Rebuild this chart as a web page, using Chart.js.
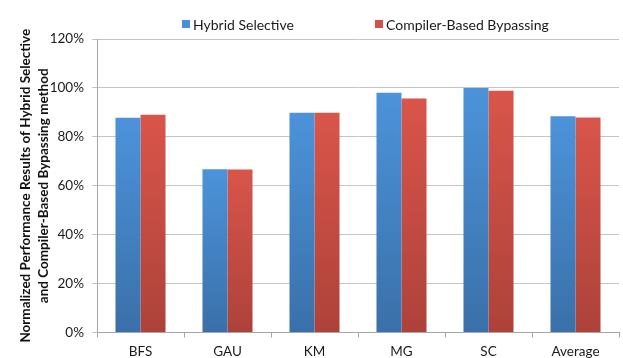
<!DOCTYPE html>
<html>
<head>
<meta charset="utf-8">
<script src="https://cdn.jsdelivr.net/npm/chart.js@4/dist/chart.umd.min.js"></script>
<style>
  html, body { margin: 0; padding: 0; background: #fff; overflow: hidden; }
  #wrap { position: relative; width: 623px; height: 366px; }
</style>
</head>
<body>
<div id="wrap"><canvas id="chart"></canvas></div>
<script>
// Benchmarks and normalized performance (%) for each method
const categories = ['BFS', 'GAU', 'KM', 'MG', 'SC', 'Average'];
const hybridSelective = [87.8, 66.7, 89.8, 98.0, 100.0, 88.4];
const compilerBypassing = [89.0, 66.6, 89.8, 95.7, 98.8, 87.9];
const yTicks = [0, 20, 40, 60, 80, 100, 120];

const FONT = 'Lato, "Open Sans", sans-serif';

// vertical per-bar gradient, lighter at the top
function barGradient(top, bottom) {
  return function (ctx) {
    const chart = ctx.chart;
    const area = chart.chartArea;
    if (!area || ctx.raw === undefined) return top;
    const y = chart.scales.y.getPixelForValue(ctx.raw);
    const base = chart.scales.y.getPixelForValue(0);
    const g = chart.ctx.createLinearGradient(0, y, 0, base);
    g.addColorStop(0, top);
    g.addColorStop(1, bottom);
    return g;
  };
}

// simple legend row drawn above the plot
const topLegend = {
  id: 'topLegend',
  afterDraw(chart, args, opts) {
    const c = chart.ctx;
    c.save();
    c.font = '14px ' + FONT;
    c.textBaseline = 'middle';
    c.textAlign = 'left';
    chart.data.datasets.forEach((ds, i) => {
      const x = opts.xs[i];
      c.fillStyle = ds.legendColor;
      c.fillRect(x, opts.y - 4, 8, 8);
      c.fillStyle = '#1a1a1a';
      c.fillText(ds.label, x + 11, opts.y + 1);
    });
    c.restore();
  }
};

new Chart(document.getElementById('chart'), {
  type: 'bar',
  data: {
    labels: categories,
    datasets: [
      {
        label: 'Hybrid Selective',
        data: hybridSelective,
        backgroundColor: barGradient('#4c93da', '#3a70a9'),
        legendColor: '#4a8fd6',
        categoryPercentage: 0.575,
        barPercentage: 1.0
      },
      {
        label: 'Compiler-Based Bypassing',
        data: compilerBypassing,
        backgroundColor: barGradient('#d9554a', '#ad423a'),
        legendColor: '#d2504a',
        categoryPercentage: 0.575,
        barPercentage: 1.0
      }
    ]
  },
  options: {
    responsive: true,
    maintainAspectRatio: false,
    animation: false,
    layout: { padding: { top: 39, right: 4, bottom: 0, left: 0 } },
    plugins: {
      legend: { display: false },
      tooltip: { enabled: false },
      topLegend: { xs: [182, 375], y: 24 }
    },
    scales: {
      x: {
        afterFit(scale) { scale.height = 33.5; },
        grid: {
          display: true,
          drawOnChartArea: false,
          drawTicks: true,
          tickLength: 5,
          offset: true,
          color: '#a6a6a6'
        },
        border: { display: true, color: '#a6a6a6' },
        ticks: {
          padding: 6,
          color: '#1a1a1a',
          font: { family: FONT, size: 13.5 }
        }
      },
      y: {
        min: 0,
        max: 120,
        afterFit(scale) { scale.width = 97; },
        afterBuildTicks(scale) { scale.ticks = yTicks.map(v => ({ value: v })); },
        grid: {
          color: '#c4c4c4',
          tickLength: 5,
          drawTicks: true
        },
        border: { display: true, color: '#a6a6a6' },
        ticks: {
          padding: 8,
          color: '#1a1a1a',
          font: { family: FONT, size: 13.5 },
          callback: v => v + '%'
        },
        title: {
          display: true,
          text: ['Normalized Performance Results of Hybrid Selective',
                 'and Compiler-Based Bypassing method'],
          color: '#111',
          font: { family: FONT, size: 13.5, weight: 'bold', lineHeight: 1.32 },
          padding: { top: 17, bottom: 0 }
        }
      }
    }
  },
  plugins: [topLegend]
});
</script>
</body>
</html>
